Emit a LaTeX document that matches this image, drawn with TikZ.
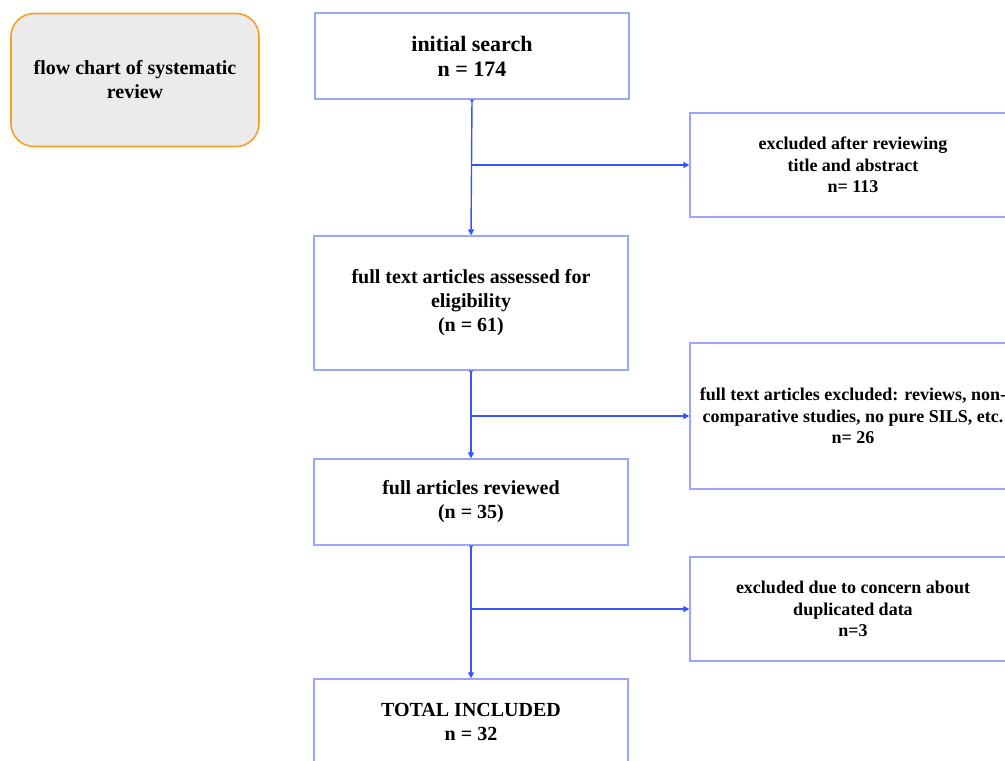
\documentclass[tikz,border=0pt]{standalone}
\usepackage{fontspec}
\setmainfont{Liberation Serif}
\usetikzlibrary{arrows.meta}
\definecolor{connblue}{RGB}{55,85,255}
\definecolor{boxblue}{RGB}{155,165,255}
\definecolor{orangeedge}{RGB}{247,160,40}
\definecolor{grayfill}{RGB}{235,235,235}
\tikzset{
  flowbox/.style={draw=boxblue, line width=1.3pt, fill=white, rectangle, inner sep=0pt, align=center,
    font=\fontsize{20}{24}\selectfont\bfseries},
  sidebox/.style={draw=boxblue, line width=1.3pt, fill=white, rectangle, inner sep=0pt, align=center,
    minimum width=326pt, font=\fontsize{18}{21.5}\selectfont\bfseries},
  titlebox/.style={draw=orangeedge, line width=1.6pt, fill=grayfill, rounded corners=23pt, inner sep=0pt,
    align=center, minimum width=248pt, minimum height=133pt, font=\fontsize{20}{24}\selectfont\bfseries},
  conn/.style={draw=connblue, line width=1.4pt,
    arrows={Triangle[length=3pt,width=4pt,reversed]-Triangle[length=6pt,width=6pt]}},
  branch/.style={draw=connblue, line width=1.4pt, -{Triangle[length=6pt,width=6pt]}}
}
\begin{document}
\begin{tikzpicture}[x=1pt,y=-1pt]
\useasboundingbox (0,0) rectangle (1005,761);
\clip (0,0) rectangle (1005,761);
\node[titlebox] (title) at (135,80) {flow chart of systematic\\review};
\node[flowbox, minimum width=314pt, minimum height=86pt, font=\fontsize{22}{25}\selectfont\bfseries] (b1) at (472,56) {initial search\\n = 174};
\node[flowbox, minimum width=314pt, minimum height=134pt] (b2) at (471,303) {full text articles assessed for\\eligibility\\(n = 61)};
\node[flowbox, minimum width=314pt, minimum height=86pt] (b3) at (471,502) {full articles reviewed\\(n = 35)};
\node[flowbox, minimum width=314pt, minimum height=86pt] (b4) at (471,722) {TOTAL INCLUDED\\n = 32};
\node[sidebox, minimum height=104pt] (r1) at (853,165) {excluded after reviewing\\title and abstract\\n= 113};
\node[sidebox, minimum height=146pt] (r2) at (853,416) {full text articles excluded: reviews, non-\\comparative studies, no pure SILS, etc.\\n= 26};
\node[sidebox, minimum height=104pt] (r3) at (853,609) {excluded due to concern about\\duplicated data\\n=3};
\draw[conn] (b1.south) -- (b2.north);
\draw[conn] (b2.south) -- (b3.north);
\draw[conn] (b3.south) -- (b4.north);
\coordinate (j1) at (b1.south |- r1.west);
\coordinate (j2) at (b2.south |- r2.west);
\coordinate (j3) at (b3.south |- r3.west);
\draw[branch] (j1) -- (r1.west);
\draw[branch] (j2) -- (r2.west);
\draw[branch] (j3) -- (r3.west);
\end{tikzpicture}
\end{document}
